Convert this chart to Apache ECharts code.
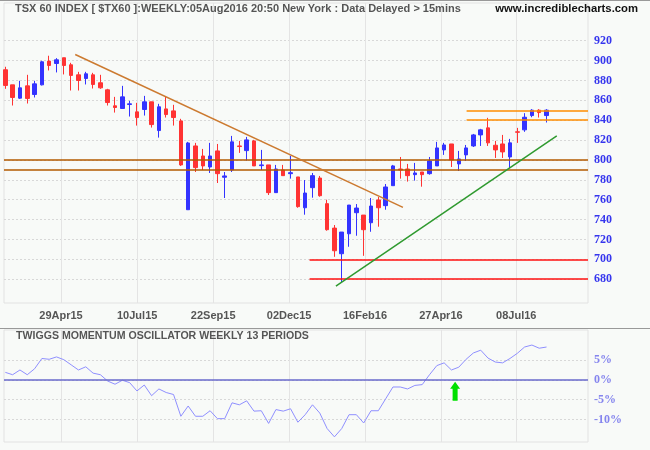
<!DOCTYPE html>
<html><head><meta charset="utf-8">
<script src="https://cdn.jsdelivr.net/npm/echarts@6/dist/echarts.min.js"></script>
<style>html,body{margin:0;padding:0;background:#f8faf8}#c{width:650px;height:450px}</style>
</head><body><div id="c"></div><script>
// ---- data (week index 0 = first weekly bar, ending week 05Aug2016 = 74) ----
const weekIndex = [0,1,2,3,4,5,6,7,8,9,10,11,12,13,14,15,16,17,18,19,20,21,22,23,24,25,26,27,28,29,30,31,32,33,34,35,36,37,38,39,40,41,42,43,44,45,46,47,48,49,50,51,52,53,54,55,56,57,58,59,60,61,62,63,64,65,66,67,68,69,70,71,72,73,74];
const opens  = [890.8,875.6,862.2,874.6,865.9,875.6,899.5,897.1,902.9,895.8,885.7,882.0,885.7,877.7,870.6,854.5,851.8,855.8,848.4,850.8,858.5,829.6,851.4,849.4,839.3,749.9,814.1,804.0,792.9,809.1,782.6,789.9,814.1,809.4,819.2,794.3,795.0,767.1,789.9,786.2,782.9,751.9,772.1,781.8,756.0,731.4,705.6,725.7,746.9,744.5,736.8,759.7,754.0,774.1,790.9,790.9,785.2,787.9,786.2,794.0,810.1,816.1,796.0,805.1,814.1,825.2,832.3,814.8,816.1,803.0,828.3,830.3,844.7,850.1,844.7];
const closes = [875.0,862.9,872.6,861.9,876.6,898.8,895.1,900.8,895.1,885.1,880.0,886.7,876.0,872.6,857.8,852.8,863.5,856.5,842.7,858.5,835.6,853.5,845.7,842.7,795.0,817.1,792.3,794.0,804.0,786.2,783.9,818.2,813.5,820.2,794.0,795.0,767.1,790.9,784.2,787.2,753.0,766.7,784.2,764.0,729.8,708.6,727.4,754.6,751.6,729.8,753.6,751.9,772.8,794.0,789.9,784.2,786.9,785.2,799.0,812.1,815.1,800.0,801.0,812.1,825.2,830.3,817.2,810.1,808.1,817.2,827.9,843.0,850.1,847.7,850.1];
const lows   = [871.6,854.8,861.5,856.8,862.9,875.0,890.1,888.1,886.1,869.9,869.9,876.0,871.9,871.6,854.8,847.7,851.8,843.7,834.6,844.7,832.6,822.5,842.7,834.6,794.0,749.9,787.9,789.9,786.9,776.8,761.7,787.9,807.1,799.3,794.0,789.9,764.7,767.1,784.2,781.2,751.9,744.9,762.0,763.0,728.8,702.5,677.0,712.6,723.7,703.5,727.7,732.8,749.9,774.1,781.2,778.2,779.2,773.1,785.2,794.0,805.1,792.9,788.9,799.0,813.1,814.1,814.1,802.0,802.0,791.9,817.2,828.3,843.0,842.7,837.7];
const highs  = [893.8,875.6,879.7,885.7,879.7,899.8,904.9,902.5,902.9,897.8,888.7,888.7,887.7,885.7,871.6,863.5,874.6,859.5,857.5,864.5,858.5,856.5,863.5,855.5,841.4,818.2,817.2,811.1,817.2,816.1,787.9,824.2,819.2,823.2,820.2,810.1,795.0,795.0,795.0,804.0,782.9,779.8,786.9,783.9,760.0,734.5,727.4,754.6,755.6,744.5,761.7,762.7,775.8,795.0,803.0,796.0,797.0,787.9,803.0,818.2,817.2,816.1,809.1,815.1,826.2,831.3,842.4,819.2,825.2,821.2,832.3,847.1,851.1,851.1,851.1];
const momentum = [1.9,1.3,2.5,1.3,2.8,5.4,5.2,5.8,5.1,3.8,2.5,3.3,1.7,1.3,-0.3,-1.1,-0.1,-0.7,-2.8,-1.3,-4.0,-2.3,-3.2,-3.7,-9.2,-6.6,-9.2,-9.2,-7.8,-9.8,-9.8,-5.8,-6.3,-5.3,-7.9,-7.8,-11.0,-7.5,-7.9,-7.3,-10.7,-8.8,-6.3,-8.4,-12.3,-14.4,-12.3,-8.8,-8.8,-10.9,-7.8,-7.8,-4.8,-1.8,-1.8,-2.3,-1.4,-1.2,1.3,3.6,4.3,2.5,3.2,5.2,6.8,7.5,5.5,4.5,4.3,5.4,6.7,8.3,8.8,8.0,8.3];
const tickLabels = ['29Apr15','10Jul15','22Sep15','02Dec15','16Feb16','27Apr16','08Jul16'];
const tickPos    = [7.61, 18.03, 28.42, 38.8, 49.18, 59.56, 69.86];
const priceTicks = [680,700,720,740,760,780,800,820,840,860,880,900,920];
const momTicks   = [-10,-5,0,5];
// trend lines: [weekFrom, valueFrom, weekTo, valueTo]
const downTrend = [9.56, 906.2, 54.37, 752.3];
const upTrend   = [45.2, 673.0, 75.4, 824.2];
const brownLevels = [800, 790];
const orangeLevels = [850, 840];
const redLevels = [700, 680];
const orangeFrom = 63.07;
const redFrom = 41.6;
const signalArrow = [61.5, -2.9];

const xMin = -0.18, xMax = 79.67;
const candleData = weekIndex.map((w, i) => [w, opens[i], closes[i], lows[i], highs[i]]);
const momData = weekIndex.map((w, i) => [w, momentum[i]]);
const fmtX = v => { const k = tickPos.findIndex(p => Math.abs(p - v) < 1e-6); return k >= 0 ? tickLabels[k] : ''; };

const hLine = (from, val, color) => [{coord: [from, val], lineStyle: {color: color, width: 1.5, type: 'solid'}}, {coord: [xMax, val]}];
const levelLines = [].concat(
  brownLevels.map(v => hLine(xMin, v, '#b35a00')),
  orangeLevels.map(v => hLine(orangeFrom, v, '#ff8c00')),
  redLevels.map(v => hLine(redFrom, v, '#ff1010'))
);

const chart = echarts.init(document.getElementById('c'), null, {renderer: 'canvas'});
chart.setOption({
  backgroundColor: '#f8faf8',
  animation: false,
  title: [
    {text: 'TSX 60 INDEX [ $TX60 ]:WEEKLY:05Aug2016 20:50 New York : Data Delayed > 15mins', left: 15, top: 3, padding: 0,
     textStyle: {fontFamily: 'Liberation Sans', fontWeight: 'bold', fontSize: 11, color: '#555'}},
    {text: 'www.incrediblecharts.com', right: 12, top: 3, padding: 0,
     textStyle: {fontFamily: 'Liberation Sans', fontWeight: 'bold', fontSize: 11.3, color: '#111'}},
    {text: 'TWIGGS MOMENTUM OSCILLATOR WEEKLY 13 PERIODS', left: 16, top: 331, padding: 0,
     textStyle: {fontFamily: 'Liberation Sans', fontWeight: 'bold', fontSize: 10.6, color: '#555'}}
  ],
  graphic: [
    {type: 'line', shape: {x1: 0, y1: 0.5, x2: 650, y2: 0.5}, style: {stroke: '#999', lineWidth: 1}, silent: true},
    {type: 'line', shape: {x1: 0, y1: 328.5, x2: 650, y2: 328.5}, style: {stroke: '#999', lineWidth: 1.2}, silent: true}
  ],
  grid: [
    {left: 4, right: 62, top: 3, bottom: 147, show: true, borderColor: '#e2e2e2', borderWidth: 1, backgroundColor: 'transparent'},
    {left: 4, right: 62, top: 330, bottom: 8, show: true, borderColor: '#e2e2e2', borderWidth: 1, backgroundColor: 'transparent'}
  ],
  xAxis: [
    {type: 'value', gridIndex: 0, min: xMin, max: xMax, axisLine: {show: false},
     axisTick: {show: false, customValues: tickPos},
     axisLabel: {customValues: tickPos, formatter: fmtX, color: '#555', fontWeight: 'bold', fontSize: 11, fontFamily: 'Liberation Sans', margin: 7},
     splitLine: {show: true, lineStyle: {color: '#e4e4e4', type: 'solid', width: 1}}},
    {type: 'value', gridIndex: 1, min: xMin, max: xMax, axisLine: {show: false},
     axisTick: {show: false, customValues: tickPos},
     axisLabel: {show: false, customValues: tickPos},
     splitLine: {show: true, lineStyle: {color: '#e4e4e4', type: 'solid', width: 1}}}
  ],
  yAxis: [
    {type: 'value', gridIndex: 0, position: 'right', min: 656, max: 958, axisLine: {show: false},
     axisTick: {show: false, customValues: priceTicks},
     axisLabel: {customValues: priceTicks, color: '#3535ee', fontFamily: 'Liberation Serif', fontWeight: 'bold', fontSize: 12, margin: 6},
     splitLine: {show: true, lineStyle: {color: '#d8d8d8', type: [2, 2], width: 1}}},
    {type: 'value', gridIndex: 1, position: 'right', min: -15.7, max: 12.6, axisLine: {show: false},
     axisTick: {show: false, customValues: momTicks},
     axisLabel: {customValues: momTicks, formatter: v => v + '%', color: '#8585ee', fontFamily: 'Liberation Serif', fontWeight: 'bold', fontSize: 12, margin: 6},
     splitLine: {show: true, lineStyle: {color: '#d8d8d8', type: [2, 2], width: 1}}}
  ],
  series: [
    {type: 'candlestick', xAxisIndex: 0, yAxisIndex: 0, data: candleData, encode: {x: 0, y: [1, 2, 3, 4]},
     barWidth: 4, clip: false, silent: true,
     itemStyle: {color: '#3333ff', color0: '#ff3333', borderColor: '#3333ff', borderColor0: '#ff3333', borderWidth: 1},
     markLine: {symbol: ['none', 'none'], silent: true, label: {show: false}, animation: false,
       data: levelLines.concat([
         [{coord: [downTrend[0], downTrend[1]], lineStyle: {color: '#cc7a30', width: 1.5, type: 'solid'}}, {coord: [downTrend[2], downTrend[3]]}],
         [{coord: [upTrend[0], upTrend[1]], lineStyle: {color: '#2f9a2f', width: 1.5, type: 'solid'}}, {coord: [upTrend[2], upTrend[3]]}]
       ])}},
    {type: 'line', xAxisIndex: 1, yAxisIndex: 1, data: momData, showSymbol: false, symbol: 'none', silent: true,
     lineStyle: {color: '#8f8fff', width: 1},
     markLine: {symbol: ['none', 'none'], silent: true, label: {show: false}, animation: false,
       lineStyle: {color: '#6a6acc', width: 1.5, type: 'solid'},
       data: [[{coord: [xMin, 0]}, {coord: [xMax, 0]}]]},
     markPoint: {silent: true, animation: false, label: {show: false},
       data: [{coord: signalArrow, symbol: 'path://M5,0 L10,7 L7.5,7 L7.5,19 L2.5,19 L2.5,7 L0,7 Z', symbolSize: [10, 19], symbolKeepAspect: false,
               itemStyle: {color: '#00e000'}}]}}
  ]
});
</script></body></html>
